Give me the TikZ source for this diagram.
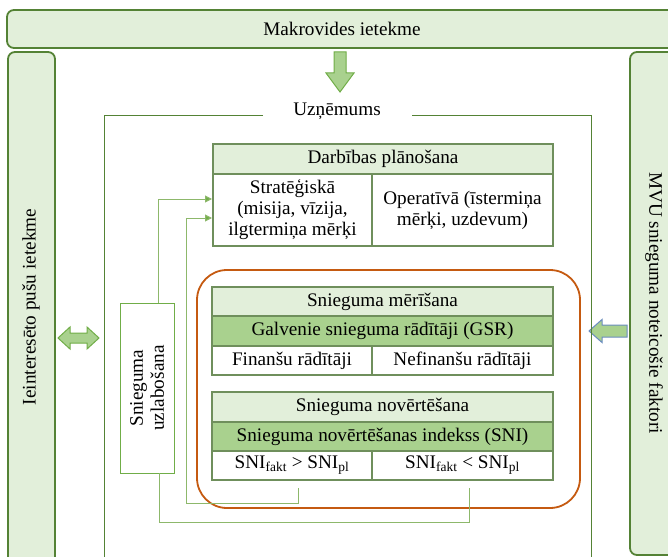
\documentclass[tikz,border=0pt]{standalone}
\usepackage{fontspec}
\setmainfont{Liberation Serif}
\usetikzlibrary{arrows.meta}
\definecolor{paleg}{HTML}{E2EFDA}
\definecolor{midg}{HTML}{A9D18E}
\definecolor{darkg}{HTML}{548235}
\definecolor{cellborder}{HTML}{6F8F5C}
\definecolor{linkg}{HTML}{8DB86B}
\definecolor{arrowg}{HTML}{70AD47}
\definecolor{arrowb}{HTML}{6A8CBF}
\definecolor{ring}{HTML}{C55A11}
\tikzset{
  txt/.style={font=\fontsize{19.2}{21}\selectfont, inner sep=0pt},
  band/.style={draw=darkg, fill=paleg, line width=1.8pt, rounded corners=7pt},
  frame/.style={draw=darkg, line width=0.9pt},
  cell/.style={txt, draw=cellborder, line width=1.1pt, fill=white, align=center},
  headcell/.style={cell, fill=paleg},
  keycell/.style={cell, fill=midg},
  link/.style={draw=linkg, line width=1pt},
  linkarrow/.style={link, -{Triangle[length=7pt,width=7pt,fill=arrowg]}},
  blockarrow/.style={fill=midg, line width=1pt, line join=miter},
}
\begin{document}
\begin{tikzpicture}[x=1pt,y=-1pt]
\useasboundingbox (0,0) rectangle (668,556);
\clip (0,0) rectangle (668,556);

% outer influences
\draw[band] (7,10) rectangle (690,48);
\node[txt] (macro) at (342,29) {Makrovides ietekme};
\draw[band] (8,52) rectangle (55,575);
\node[txt, rotate=90] (stake) at (31,307) {Ieinteresēto pušu ietekme};
\draw[band] (630,52) rectangle (690,555);
\node[txt, rotate=-90] (sme) at (654,303) {MVU snieguma noteicošie faktori};

% block arrows
\draw[blockarrow, draw=arrowg] (334,52) -- (346,52) -- (346,73) -- (354,73) -- (340,92)
  -- (326,73) -- (334,73) -- cycle;
\draw[blockarrow, draw=arrowg] (58,338) -- (70,327) -- (70,333) -- (87,333) -- (87,327)
  -- (99,338) -- (87,349) -- (87,343) -- (70,343) -- (70,349) -- cycle;
\draw[blockarrow, draw=arrowb] (589,331) -- (602,319.5) -- (602,325) -- (627,325)
  -- (627,337) -- (602,337) -- (602,342.5) -- cycle;

% company frame
\node[txt] (company) at (337,111) {Uzņēmums};
\draw[frame] (263,115) -- (104,115) -- (104,570);
\draw[frame] (412,115) -- (591,115) -- (591,570);

% planning table
\node[headcell, minimum width=340, minimum height=30] (plan) at (383,159) {Darbības plānošana};
\node[cell, minimum width=159, minimum height=72] (strat) at (292.5,210)
  {Stratēģiskā\\(misija, vīzija,\\ilgtermiņa mērķi};
\node[cell, minimum width=181, minimum height=72] (oper) at (462.5,210)
  {Operatīvā (īstermiņa\\mērķi, uzdevum)};

% measurement and evaluation
\draw[ring, line width=1.8pt, rounded corners=30pt] (197,270) rectangle (580,508);

\node[headcell, minimum width=341, minimum height=29] (meas) at (382.5,301.5) {Snieguma mērīšana};
\node[keycell, minimum width=341, minimum height=30] (gsr) at (382.5,331) {Galvenie snieguma rādītāji (GSR)};
\node[cell, minimum width=160, minimum height=29] (fin) at (292,360.5) {Finanšu rādītāji};
\node[cell, minimum width=181, minimum height=29] (nonfin) at (462.5,360.5) {Nefinanšu rādītāji};

\node[headcell, minimum width=341, minimum height=30] (eval) at (382.5,407) {Snieguma novērtēšana};
\node[keycell, minimum width=341, minimum height=29] (sni) at (382.5,436.5) {Snieguma novērtēšanas indekss (SNI)};
\node[cell, minimum width=160, minimum height=29] (above) at (292,465.5)
  {SNI\textsubscript{fakt} > SNI\textsubscript{pl}};
\node[cell, minimum width=181, minimum height=29] (below) at (462.5,465.5)
  {SNI\textsubscript{fakt} < SNI\textsubscript{pl}};

% improvement box
\node[txt, draw=arrowg, line width=1pt, minimum width=170, minimum height=54, align=center,
  rotate=90] (improve) at (147,388) {Snieguma\\uzlabošana};

% feedback loops
\coordinate (impTop) at (158,303);
\coordinate (impBot) at (159,473);
\coordinate (inA) at (212,199);
\coordinate (inB) at (212,218);
\coordinate (outL) at (298,488);
\coordinate (outR) at (469,488);
\draw[linkarrow] (impTop) |- (inA);
\draw[linkarrow] (outL) |- (186,503) |- (inB);
\draw[link] (outR) |- (159,522) -- (impBot);
\end{tikzpicture}
\end{document}
